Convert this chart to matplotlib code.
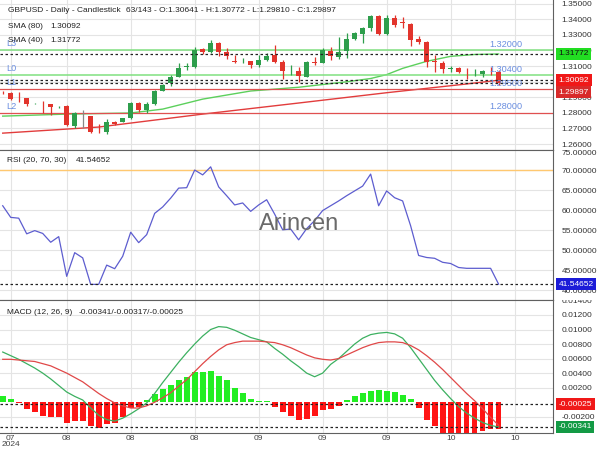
import numpy as np
import matplotlib.pyplot as plt
from matplotlib.transforms import Bbox, TransformedBbox

plt.rcParams['font.family'] = ['Liberation Sans', 'DejaVu Sans']

# ---- data ----
opens = [1.2930, 1.2929, 1.2894, 1.2893, 1.2860, 1.2866, 1.2856, 1.2838, 1.2844, 1.2715,
         1.2779, 1.2779, 1.2702, 1.2679, 1.2743, 1.2743, 1.2765, 1.2865, 1.2818, 1.2856,
         1.2942, 1.2989, 1.3031, 1.3095, 1.3096, 1.3207, 1.3188, 1.3249, 1.3192, 1.3129,
         1.3131, 1.3132, 1.3106, 1.3138, 1.3171, 1.3128, 1.3069, 1.3070, 1.3031, 1.3128,
         1.3117, 1.3198, 1.3156, 1.3198, 1.3271, 1.3305, 1.3342, 1.3420, 1.3305, 1.3406,
         1.3379, 1.3369, 1.3271, 1.3256, 1.3129, 1.3117, 1.3084, 1.3089, 1.3064, 1.3062,
         1.3049, 1.3071, 1.30641]
highs = [1.2940, 1.2932, 1.2935, 1.2897, 1.2866, 1.2878, 1.2858, 1.2845, 1.2850, 1.2807,
         1.2818, 1.2781, 1.2726, 1.2758, 1.2745, 1.2768, 1.2870, 1.2867, 1.2871, 1.2946,
         1.2985, 1.3042, 1.3117, 1.3121, 1.3224, 1.3217, 1.3267, 1.3252, 1.3213, 1.3171,
         1.3149, 1.3134, 1.3171, 1.3181, 1.3235, 1.3138, 1.3106, 1.3092, 1.3132, 1.3160,
         1.3213, 1.3224, 1.3288, 1.3310, 1.3320, 1.3352, 1.3427, 1.3427, 1.3427, 1.3427,
         1.3416, 1.3378, 1.3292, 1.3258, 1.3171, 1.3134, 1.3100, 1.3096, 1.3085, 1.3079,
         1.3074, 1.3096, 1.30772]
lows = [1.2920, 1.2880, 1.2871, 1.2844, 1.2856, 1.2801, 1.2786, 1.2832, 1.2718, 1.2701,
        1.2703, 1.2669, 1.2672, 1.2664, 1.2722, 1.2741, 1.2760, 1.2807, 1.2801, 1.2850,
        1.2938, 1.2972, 1.3028, 1.3074, 1.3085, 1.3177, 1.3181, 1.3164, 1.3143, 1.3121,
        1.3117, 1.3085, 1.3096, 1.3134, 1.3117, 1.3017, 1.3042, 1.3000, 1.3028, 1.3106,
        1.3117, 1.3138, 1.3143, 1.3150, 1.3267, 1.3246, 1.3327, 1.3299, 1.3299, 1.3352,
        1.3342, 1.3228, 1.3241, 1.3096, 1.3063, 1.3057, 1.3063, 1.3057, 1.3015, 1.3036,
        1.3028, 1.3042, 1.29810]
closes = [1.2928, 1.2887, 1.2893, 1.2856, 1.2862, 1.2864, 1.2835, 1.2840, 1.2722, 1.2797,
          1.2779, 1.2679, 1.2700, 1.2743, 1.2726, 1.2765, 1.2865, 1.2818, 1.2856, 1.2942,
          1.2978, 1.3031, 1.3085, 1.3097, 1.3203, 1.3192, 1.3249, 1.3192, 1.3164, 1.3127,
          1.3133, 1.3106, 1.3138, 1.3166, 1.3128, 1.3070, 1.3071, 1.3036, 1.3128, 1.3117,
          1.3203, 1.3164, 1.3192, 1.3271, 1.3310, 1.3342, 1.3420, 1.3305, 1.3406, 1.3363,
          1.3377, 1.3267, 1.3252, 1.3128, 1.3127, 1.3079, 1.3086, 1.3063, 1.3062, 1.3064,
          1.3068, 1.3069, 1.29897]

sma40_x = [0, 8, 16, 20, 25, 31, 37, 43, 46, 48, 50, 53, 56, 59, 62]
sma40_y = [1.2779, 1.2792, 1.2799, 1.2824, 1.2888, 1.2940, 1.2964, 1.2999, 1.3020, 1.3045,
           1.3085, 1.3130, 1.3162, 1.3174, 1.31772]
sma80_x = [0, 12, 25, 37, 48, 58, 62]
sma80_y = [1.2670, 1.2709, 1.2792, 1.2863, 1.2929, 1.2985, 1.30092]

levels = [1.32, 1.304, 1.295, 1.28]
level_names = ["L3", "L0", "L1", "L2"]

rsi = [61.1, 58.2, 58.0, 54.1, 54.9, 54.2, 52.0, 53.4, 43.5, 49.4,
       48.1, 41.5, 41.5, 46.3, 45.4, 48.5, 54.5, 51.9, 53.9, 59.2,
       60.8, 63.0, 65.5, 65.6, 70.0, 68.8, 70.8, 65.8, 63.6, 61.3,
       61.8, 59.7, 61.3, 62.6, 59.0, 55.1, 55.3, 52.6, 55.4, 57.4,
       59.9, 61.1, 62.3, 63.6, 64.8, 66.0, 69.0, 61.1, 64.8, 63.1,
       62.3, 56.1, 48.7, 48.2, 48.0, 47.0, 46.7, 45.7, 45.5, 45.5,
       45.5, 45.5, 41.54652]

macd = [0.0069, 0.0064, 0.0059, 0.0053, 0.0047, 0.0040, 0.0032, 0.0023, 0.0014, 0.0008,
        0.0003, -0.0008, -0.0018, -0.0024, -0.0026, -0.0022, -0.0016, -0.0009, -0.0001, 0.0012,
        0.0027, 0.0041, 0.0055, 0.0068, 0.0080, 0.0091, 0.0100, 0.0104, 0.0103, 0.0099,
        0.0094, 0.0089, 0.0086, 0.0083, 0.0074, 0.0066, 0.0057, 0.0049, 0.0040, 0.0035,
        0.0040, 0.0052, 0.0060, 0.0070, 0.0080, 0.0088, 0.0093, 0.0095, 0.0096, 0.0094,
        0.0088, 0.0075, 0.0060, 0.0045, 0.0030, 0.0017, 0.0005, -0.0006, -0.0015, -0.0022,
        -0.0028, -0.0032, -0.00341]
signal = [0.0059, 0.0059, 0.0058, 0.0057, 0.0056, 0.0053, 0.0050, 0.0045, 0.0040, 0.0034,
          0.0028, 0.0020, 0.0012, 0.0005, -0.0001, -0.0005, -0.0008, -0.0008, -0.0005, 0.0000,
          0.0006, 0.0013, 0.0022, 0.0031, 0.0042, 0.0053, 0.0063, 0.0072, 0.0079, 0.0082,
          0.0084, 0.0084, 0.0084, 0.0083, 0.0082, 0.0079, 0.0075, 0.0070, 0.0065, 0.0061,
          0.0059, 0.0058, 0.0060, 0.0065, 0.0070, 0.0075, 0.0079, 0.0082, 0.0083, 0.0083,
          0.0082, 0.0078, 0.0072, 0.0064, 0.0055, 0.0045, 0.0034, 0.0023, 0.0012, 0.0002,
          -0.0009, -0.0021, -0.00317]
hist = [0.0008, 0.0004, -0.0001, -0.0009, -0.0013, -0.0019, -0.0021, -0.0020, -0.0028, -0.0026,
        -0.0026, -0.0033, -0.0036, -0.0030, -0.0028, -0.0021, -0.0008, -0.0007, 0.0003, 0.0011,
        0.0018, 0.0024, 0.0031, 0.0034, 0.0041, 0.0041, 0.0043, 0.0036, 0.0030, 0.0020,
        0.0013, 0.0005, 0.0002, 0.0001, -0.0006, -0.0014, -0.0019, -0.0025, -0.0023, -0.0019,
        -0.0011, -0.0009, -0.0005, 0.0003, 0.0008, 0.0012, 0.0015, 0.0017, 0.0016, 0.0014,
        0.0010, 0.0004, -0.0008, -0.0025, -0.0033, -0.0043, -0.0043, -0.0048, -0.0045, -0.0043,
        -0.0040, -0.0037, -0.0037]
hist_last = -0.00025

tick_pos = [1, 8, 16, 24, 32, 40, 48, 56, 64]
tick_labels = ["07\n2024", "08", "08", "08", "09", "09", "09", "10", "10"]

# ---- figure ----
FS = 6.0
fig = plt.figure(figsize=(6, 4.5), dpi=100)
W = 553 / 600
ax1 = fig.add_axes([0, 300 / 450, W, 150 / 450])
ax2 = fig.add_axes([0, 150 / 450, W, 150 / 450])
ax3 = fig.add_axes([0, 17 / 450, W, 133 / 450])

GRID = '#e4e4e4'
for ax in (ax1, ax2, ax3):
    ax.set_xlim(-0.34, 68.8)
    ax.yaxis.tick_right()
    ax.tick_params(axis='y', length=0, labelsize=FS, colors='#333333', pad=6)
    ax.tick_params(axis='x', length=0, labelsize=FS, colors='#444444', pad=1.2)
    ax.set_xticks(tick_pos)
    ax.grid(True, color=GRID, lw=0.8)
    ax.set_axisbelow(True)
    ax.spines['left'].set_visible(False)
    for s in ('top', 'bottom', 'right'):
        ax.spines[s].set_color('#606060')
ax1.spines['top'].set_visible(False)
ax1.set_xticklabels([])
ax2.set_xticklabels([])
ax3.set_xticklabels(tick_labels, linespacing=0.95)


def clip_labels(ax, y0, y1):
    bb = TransformedBbox(Bbox.from_extents(0, 1 - y1 / 450, 1, 1 - y0 / 450), fig.transFigure)
    for t in ax.yaxis.get_major_ticks():
        t.label2.set_clip_box(bb)
        t.label2.set_clip_on(True)


def side_box(ax, y, txt, fc, tc='white'):
    ax.text(1.01, y, txt, transform=ax.get_yaxis_transform(), ha='left', va='center',
            fontsize=FS, color=tc, clip_on=False, zorder=10,
            bbox=dict(boxstyle='square,pad=0.3', fc=fc, ec='none'))


# ---- price panel ----
x = np.arange(len(opens))
o, h, l, c = map(np.array, (opens, highs, lows, closes))
cols = np.where(c > o, '#2e9e4c', np.where(c < o, '#e2342c', '#888888'))
ax1.vlines(x, l, h, colors=cols, lw=0.9, zorder=3)
body_lo = np.minimum(o, c)
body_h = np.maximum(np.abs(c - o), 0.00012)
ax1.bar(x, body_h, bottom=body_lo, width=0.62, color=cols, lw=0, zorder=4)

ax1.plot(sma40_x, sma40_y, color='#5cd05c', lw=1, zorder=2)
ax1.plot(sma80_x, sma80_y, color='#e23c3c', lw=1, zorder=2)

for lvl, name in zip(levels, level_names):
    lc = '#80e080' if lvl > 1.3 else '#e05050'
    ax1.axhline(lvl, color=lc, lw=1.1 if lvl > 1.3 else 0.9, zorder=2)
    ax1.annotate(name, (0.011, lvl), xycoords=('axes fraction', 'data'), xytext=(0, 1.5),
                 textcoords='offset points', va='bottom', ha='left', fontsize=6.6, color='#6a8ee0')
    ax1.annotate('%.5f' % lvl, (60.8, lvl), xytext=(0, 1), textcoords='offset points',
                 va='bottom', ha='left', fontsize=6.6, color='#6a8ee0', zorder=6)

for v in (sma40_y[-1], sma80_y[-1], closes[-1]):
    ax1.axhline(v, color='#222222', lw=0.9, ls=(0, (2, 2)), zorder=5)

ax1.set_ylim(1.2562, 1.3523)
pticks = np.arange(1.26, 1.3501, 0.01)
ax1.set_yticks(pticks)
ax1.set_yticklabels(['%.5f' % v for v in pticks])
clip_labels(ax1, 0, 150)
side_box(ax1, sma40_y[-1], '%.5f' % sma40_y[-1], '#22dd22', '#111111')
side_box(ax1, sma80_y[-1], '%.5f' % sma80_y[-1], '#f01818')
side_box(ax1, 1.2933, '%.5f' % closes[-1], '#d82a2a')

TXT = '#222222'
fig.text(8 / 600, 1 - 10 / 450, 'GBPUSD - Daily - Candlestick', fontsize=FS, color=TXT, va='center')
fig.text(126 / 600, 1 - 10 / 450, '63/143 - O:%.5f - H:%.5f - L:%.5f - C:%.5f'
         % (opens[-1], highs[-1], lows[-1], closes[-1]), fontsize=FS, color=TXT, va='center')
fig.text(8 / 600, 1 - 26 / 450, 'SMA (80)', fontsize=FS, color=TXT, va='center')
fig.text(50 / 600, 1 - 26 / 450, '%.5f' % sma80_y[-1], fontsize=FS, color=TXT, va='center')
fig.text(8 / 600, 1 - 41 / 450, 'SMA (40)', fontsize=FS, color=TXT, va='center')
fig.text(50 / 600, 1 - 41 / 450, '%.5f' % sma40_y[-1], fontsize=FS, color=TXT, va='center')

# ---- RSI panel ----
ax2.plot(x, rsi, color='#5d5dcf', lw=0.9, zorder=3)
ax2.axhline(70, color='#ffc870', lw=1, zorder=2)
ax2.axhline(rsi[-1], color='#222222', lw=0.9, ls=(0, (2, 2)), zorder=4)
ax2.set_ylim(37.6, 75.0)
rsi_ticks = [40, 45, 50, 55, 60, 65, 70, 75]
ax2.set_yticks(rsi_ticks)
ax2.set_yticklabels(['%.5f' % v for v in rsi_ticks])
ax2.get_yticklabels()[-1].set_va('top')
clip_labels(ax2, 150, 300)
side_box(ax2, rsi[-1], '%.5f' % rsi[-1], '#1c1cd8')
fig.text(7 / 600, 1 - 161 / 450, 'RSI (20, 70, 30)', fontsize=FS, color=TXT, va='center')
fig.text(76 / 600, 1 - 161 / 450, '%.5f' % rsi[-1], fontsize=FS, color=TXT, va='center')
fig.text(299 / 600, 1 - 224 / 450, 'Arincen', fontsize=17, color='#6a6a6a', ha='center', va='center')

# ---- MACD panel ----
hcols = ['#22ee22' if v >= 0 else '#ff1414' for v in hist]
ax3.bar(x, hist, width=0.72, color=hcols, lw=0, zorder=2)
ax3.plot(x, macd, color='#3cb060', lw=0.9, zorder=3)
ax3.plot(x, signal, color='#e04848', lw=0.9, zorder=3)
ax3.axhline(hist_last, color='#222222', lw=0.9, ls=(0, (2, 2)), zorder=4)
ax3.axhline(macd[-1], color='#222222', lw=0.9, ls=(0, (2, 2)), zorder=4)
ax3.set_ylim(-0.00424, 0.01406)
macd_ticks = [-0.002, 0.002, 0.004, 0.006, 0.008, 0.010, 0.012, 0.014]
ax3.set_yticks(macd_ticks)
ax3.set_yticklabels(['%.5f' % v for v in macd_ticks])
clip_labels(ax3, 300, 433)
side_box(ax3, hist_last, '%.5f' % hist_last, '#f01818')
side_box(ax3, macd[-1], '%.5f' % macd[-1], '#139a45')
fig.text(7 / 600, 1 - 312 / 450, 'MACD (12, 26, 9)', fontsize=FS, color=TXT, va='center')
fig.text(79 / 600, 1 - 312 / 450, '%.5f/%.5f/%.5f' % (macd[-1], signal[-1], hist_last),
         fontsize=FS, color=TXT, va='center')

fig.savefig('out.png', dpi=100)
